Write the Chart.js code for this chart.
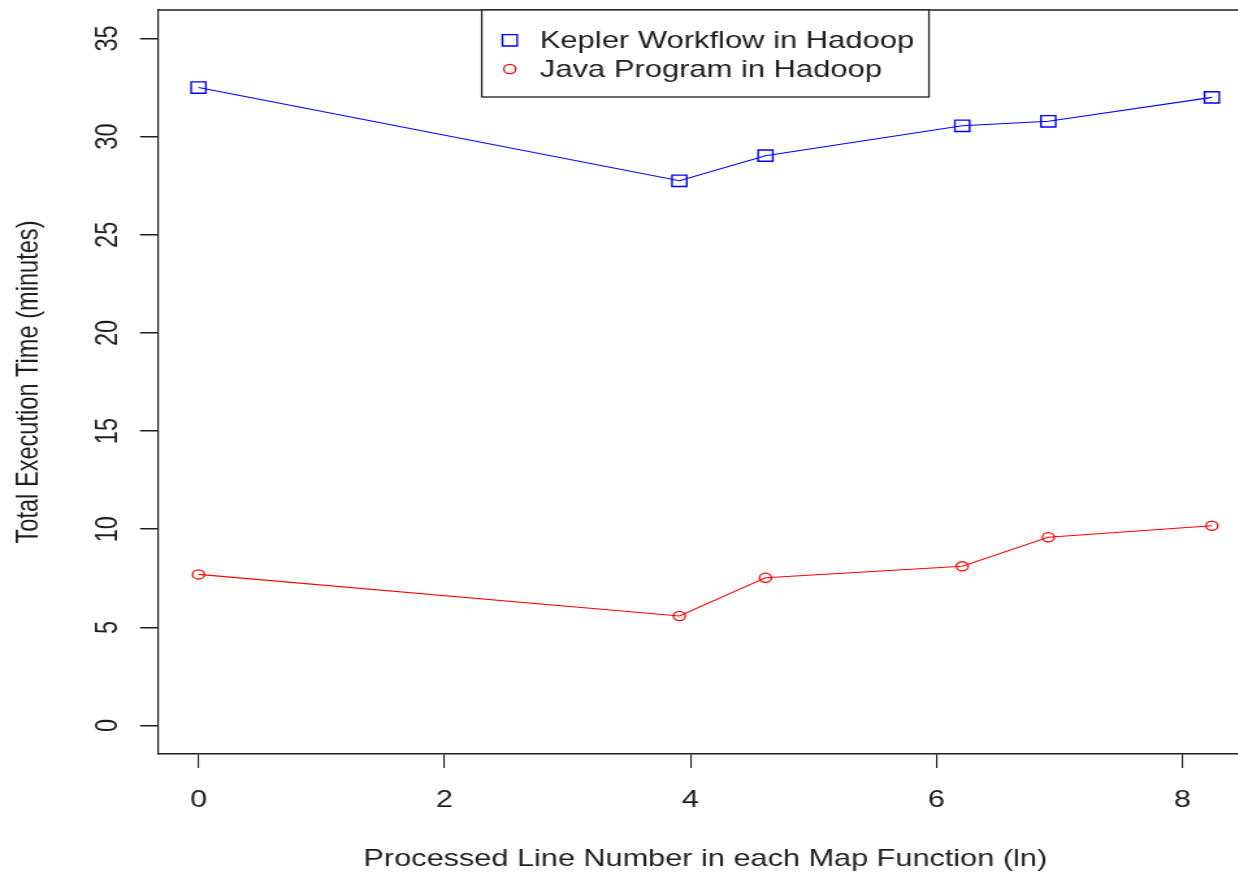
<!DOCTYPE html>
<html>
<head>
<meta charset="utf-8">
<script src="https://cdn.jsdelivr.net/npm/chart.js@4/dist/chart.umd.min.js"></script>
<style>
  html, body { margin: 0; padding: 0; background: #fff; overflow: hidden; }
  /* the plot is drawn narrow and widened horizontally */
  #wrap { width: 970px; height: 873px; transform: scale(1.3, 1); transform-origin: 0 0; }
</style>
</head>
<body>
<div id="wrap"><canvas id="c" width="970" height="873"></canvas></div>
<script>
// ln(lines processed per map function)
const lineNumberLn = [0, 3.91, 4.61, 6.21, 6.91, 8.24];
// total execution time in minutes
const keplerMinutes = [32.5, 27.75, 29.03, 30.55, 30.78, 32.0];
const javaMinutes = [7.7, 5.58, 7.53, 8.11, 9.59, 10.18];
// axis ticks
const xTickValues = [0, 2, 4, 6, 8];
const yTickValues = [0, 5, 10, 15, 20, 25, 30, 35];

const seriesNames = ['Kepler Workflow in Hadoop', 'Java Program in Hadoop'];
const xTitle = 'Processed Line Number in each Map Function (ln)';
const yTitle = 'Total Execution Time (minutes)';

const FONT = '"Liberation Sans", Arial, Helvetica, sans-serif';
const INK = '#1e1e1e';

const toPoints = (ys) => lineNumberLn.map((x, i) => ({ x: x, y: ys[i] }));

const decorations = {
  id: 'decorations',
  afterDraw(chart) {
    const ctx = chart.ctx;
    const area = chart.chartArea;
    const ys = chart.scales.y;

    ctx.save();
    // top and right edges of the plot frame
    ctx.strokeStyle = INK;
    ctx.lineWidth = 1.5;
    ctx.beginPath();
    ctx.moveTo(area.left, area.top);
    ctx.lineTo(area.right, area.top);
    ctx.lineTo(area.right, area.bottom);
    ctx.stroke();

    // vertical tick labels on the y axis
    ctx.fillStyle = INK;
    ctx.font = '23.6px ' + FONT;
    ctx.textAlign = 'center';
    ctx.textBaseline = 'alphabetic';
    ys.ticks.forEach(t => {
      const py = ys.getPixelForValue(t.value);
      ctx.save();
      ctx.translate(90, py);
      ctx.rotate(-Math.PI / 2);
      ctx.fillText(String(t.value), 0, 0);
      ctx.restore();
    });

    // axis titles
    ctx.save();
    ctx.translate(28.5, (area.top + area.bottom) / 2);
    ctx.rotate(-Math.PI / 2);
    ctx.fillText(yTitle, 0, 0);
    ctx.restore();
    ctx.fillText(xTitle, (area.left + area.right) / 2 + 1.5, 866);

    // legend box at the top centre of the plot
    const boxW = 344, boxTop = area.top, boxBottom = 97;
    const boxLeft = (area.left + area.right) / 2 + 1.5 - boxW / 2;
    ctx.fillStyle = '#fff';
    ctx.fillRect(boxLeft, boxTop, boxW, boxBottom - boxTop);
    ctx.strokeStyle = INK;
    ctx.lineWidth = 1.3;
    ctx.strokeRect(boxLeft, boxTop, boxW, boxBottom - boxTop);

    const rows = [
      { sy: 40.3, ty: 48.3 },
      { sy: 69, ty: 77.3 }
    ];
    chart.data.datasets.forEach((ds, i) => {
      const r = rows[i];
      ctx.fillStyle = 'rgba(0,0,0,0)';
      ctx.strokeStyle = ds.pointBorderColor;
      ctx.lineWidth = ds.pointBorderWidth;
      Chart.helpers.drawPoint(ctx, {
        pointStyle: ds.pointStyle,
        radius: ds.pointRadius,
        borderWidth: ds.pointBorderWidth,
        rotation: 0
      }, boxLeft + 21.6, r.sy);
      ctx.fillStyle = INK;
      ctx.font = '23.8px ' + FONT;
      ctx.textAlign = 'left';
      ctx.textBaseline = 'alphabetic';
      ctx.fillText(ds.label, boxLeft + 44.7, r.ty);
    });
    ctx.restore();
  }
};

new Chart(document.getElementById('c'), {
  type: 'line',
  data: {
    datasets: [
      {
        label: seriesNames[0],
        data: toPoints(keplerMinutes),
        borderColor: '#0000ff',
        backgroundColor: 'transparent',
        borderWidth: 1.1,
        pointStyle: 'rect',
        pointRadius: 8,
        pointBorderWidth: 1.4,
        pointBackgroundColor: 'transparent',
        pointBorderColor: '#0000ff',
        tension: 0
      },
      {
        label: seriesNames[1],
        data: toPoints(javaMinutes),
        borderColor: '#ff0000',
        backgroundColor: 'transparent',
        borderWidth: 1.1,
        pointStyle: 'circle',
        pointRadius: 4.6,
        pointBorderWidth: 1.3,
        pointBackgroundColor: 'transparent',
        pointBorderColor: '#ff0000',
        tension: 0
      }
    ]
  },
  options: {
    responsive: false,
    animation: false,
    events: [],
    layout: { padding: { top: 10, right: 6.5, left: 0, bottom: 0 } },
    plugins: { legend: { display: false }, tooltip: { enabled: false } },
    scales: {
      x: {
        type: 'linear',
        min: -0.33,
        max: 8.54,
        afterBuildTicks: (s) => { s.ticks = xTickValues.map(v => ({ value: v })); },
        afterFit: (s) => { s.height = 119; },
        ticks: {
          color: INK,
          font: { family: FONT, size: 23.6 },
          padding: 18,
          maxRotation: 0,
          minRotation: 0,
          callback: (v) => String(v)
        },
        grid: {
          display: true,
          drawOnChartArea: false,
          drawTicks: true,
          tickLength: 14,
          color: INK,
          lineWidth: 1.1
        },
        border: { display: true, color: INK, width: 1.5 }
      },
      y: {
        type: 'linear',
        min: -1.45,
        max: 36.45,
        afterBuildTicks: (s) => { s.ticks = yTickValues.map(v => ({ value: v })); },
        afterFit: (s) => { s.width = 121.5; },
        ticks: { display: false },
        grid: {
          display: true,
          drawOnChartArea: false,
          drawTicks: true,
          tickLength: 13.8,
          color: INK,
          lineWidth: 1.5
        },
        border: { display: true, color: INK, width: 1.2 }
      }
    }
  },
  plugins: [decorations]
});
</script>
</body>
</html>
